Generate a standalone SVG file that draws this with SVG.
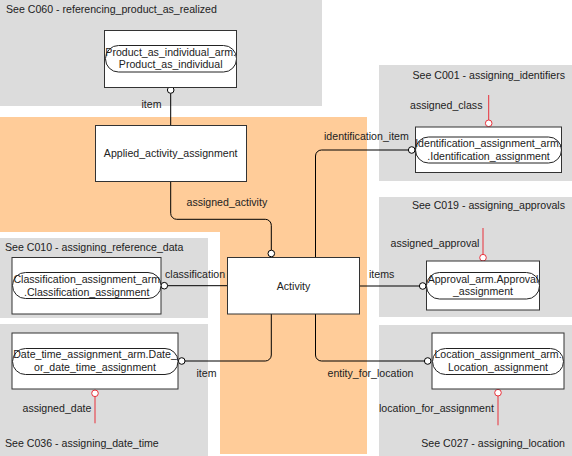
<svg xmlns="http://www.w3.org/2000/svg" width="572" height="456" viewBox="0 0 572 456">
<style>
text{font-family:"Liberation Sans",Arial,sans-serif;font-size:10.6px;fill:#222}
.c{text-anchor:middle}
.r{text-anchor:end}
.panel{fill:#dcdcdc}
.box{fill:#fff;stroke:#333;stroke-width:1}
.pill{fill:#fff;stroke:#222;stroke-width:1}
.ln{fill:none;stroke:#000;stroke-width:1}
.red{fill:none;stroke:#e8303a;stroke-width:1}
.o{fill:#fff;stroke:#000;stroke-width:1}
.ro{fill:#fff;stroke:#e8303a;stroke-width:1}
</style>
<defs>
<clipPath id="cp1"><rect x="104.5" y="30.5" width="132" height="57"/></clipPath>
<clipPath id="cp2"><rect x="415" y="127" width="147" height="46"/></clipPath>
<clipPath id="cp3"><rect x="426" y="261" width="114" height="49"/></clipPath>
<clipPath id="cp4"><rect x="432" y="333" width="132" height="56"/></clipPath>
<clipPath id="cp5"><rect x="12" y="257" width="149" height="57"/></clipPath>
<clipPath id="cp6"><rect x="12" y="333" width="166" height="56"/></clipPath>
</defs>
<g id="background">
<rect class="panel" x="0" y="0" width="322" height="106"/>
<path d="M0 117H367V454H220V232H0Z" fill="#ffcc99"/>
<rect class="panel" x="379" y="65" width="193" height="116"/>
<rect class="panel" x="379" y="197" width="193" height="120"/>
<rect class="panel" x="379" y="325" width="193" height="131"/>
<rect class="panel" x="0" y="238" width="208" height="80"/>
<rect class="panel" x="0" y="324" width="208" height="132"/>
<text x="6" y="13">See C060 - referencing_product_as_realized</text>
<text class="r" x="565" y="79">See C001 - assigning_identifiers</text>
<text class="r" x="565" y="209">See C019 - assigning_approvals</text>
<text class="r" x="565" y="447">See C027 - assigning_location</text>
<text x="5" y="251">See C010 - assigning_reference_data</text>
<text x="5" y="447">See C036 - assigning_date_time</text>
</g>
<g id="connectors">
<path class="ln" d="M170.7 93.3V125"/>
<circle class="o" cx="170.7" cy="90" r="3.3"/>
<text x="141.5" y="108">item</text>
<path class="ln" d="M170.7 181.7V213.3a6 6 0 0 0 6 6H265.3a6 6 0 0 1 6 6V250"/>
<circle class="o" cx="271.3" cy="253.5" r="3.3"/>
<text x="186.5" y="206">assigned_activity</text>
<path class="ln" d="M315.5 257.3V156a6 6 0 0 1 6-6H408.4"/>
<circle class="o" cx="411.7" cy="150" r="3.3"/>
<text x="324" y="140">identification_item</text>
<path class="ln" d="M359.3 286H419.4"/>
<circle class="o" cx="422.7" cy="286" r="3.3"/>
<text x="369" y="278">items</text>
<path class="ln" d="M315.5 314V355a6 6 0 0 0 6 6H424.4"/>
<circle class="o" cx="427.7" cy="361" r="3.3"/>
<text x="327.5" y="377">entity_for_location</text>
<path class="ln" d="M167.6 285.7H227.3"/>
<circle class="o" cx="164.3" cy="285.7" r="3.3"/>
<text x="165" y="278">classification</text>
<path class="ln" d="M185 361H265.3a6 6 0 0 0 6-6V314"/>
<circle class="o" cx="181.7" cy="361" r="3.3"/>
<text x="196.5" y="377">item</text>
<path class="red" d="M488.7 95V120"/>
<circle class="ro" cx="488.7" cy="123.3" r="3.3"/>
<text x="410" y="109">assigned_class</text>
<path class="red" d="M483 228V254.4"/>
<circle class="ro" cx="483" cy="257.7" r="3.3"/>
<text x="390.5" y="247">assigned_approval</text>
<path class="red" d="M498 396V425.3"/>
<circle class="ro" cx="498" cy="392.7" r="3.3"/>
<text x="379" y="412">location_for_assignment</text>
<path class="red" d="M95 396.6V423.3"/>
<circle class="ro" cx="95" cy="393.3" r="3.3"/>
<text x="22.5" y="412">assigned_date</text>
</g>
<g id="product">
<rect class="box" x="104.5" y="30.5" width="132" height="57"/>
<g clip-path="url(#cp1)">
<rect class="pill" x="105.5" y="45.5" width="131" height="26.5" rx="13"/>
<text class="c" x="170.7" y="56">Product_as_individual_arm.</text>
<text class="c" x="170.7" y="68">Product_as_individual</text>
</g>
</g>
<g id="applied">
<rect class="box" x="95.5" y="125.5" width="151" height="56"/>
<text class="c" x="170.7" y="156.5">Applied_activity_assignment</text>
</g>
<g id="activity">
<rect class="box" x="227.5" y="257.5" width="132" height="56.5"/>
<text class="c" x="293.5" y="290">Activity</text>
</g>
<g id="identification">
<rect class="box" x="415.5" y="127" width="146" height="45.5"/>
<g clip-path="url(#cp2)">
<rect class="pill" x="415.5" y="137" width="146" height="26" rx="13"/>
<text class="c" x="488.5" y="147">Identification_assignment_arm.</text>
<text class="c" x="488.5" y="160">.Identification_assignment</text>
</g>
</g>
<g id="approval">
<rect class="box" x="426.5" y="261" width="113" height="49"/>
<g clip-path="url(#cp3)">
<rect class="pill" x="426.5" y="272.5" width="113" height="26.5" rx="13"/>
<text class="c" x="483" y="283.3">Approval_arm.Approval</text>
<text class="c" x="483" y="295">_assignment</text>
</g>
</g>
<g id="location">
<rect class="box" x="432" y="333" width="132" height="56"/>
<g clip-path="url(#cp4)">
<rect class="pill" x="432.5" y="348.5" width="131" height="26" rx="13"/>
<text class="c" x="498" y="358.3">Location_assignment_arm.</text>
<text class="c" x="498" y="370.7">Location_assignment</text>
</g>
</g>
<g id="classification">
<rect class="box" x="12" y="257.5" width="149" height="56.5"/>
<g clip-path="url(#cp5)">
<rect class="pill" x="12.5" y="272.5" width="148.5" height="26" rx="13"/>
<text class="c" x="86.7" y="283">Classification_assignment_arm</text>
<text class="c" x="86.7" y="295.7">.Classification_assignment</text>
</g>
</g>
<g id="datetime">
<rect class="box" x="12" y="333" width="166" height="56"/>
<g clip-path="url(#cp6)">
<rect class="pill" x="12.5" y="348.5" width="165.5" height="26" rx="13"/>
<text class="c" x="95" y="358">Date_time_assignment_arm.Date_</text>
<text class="c" x="95" y="370.7">or_date_time_assignment</text>
</g>
</g>
</svg>
